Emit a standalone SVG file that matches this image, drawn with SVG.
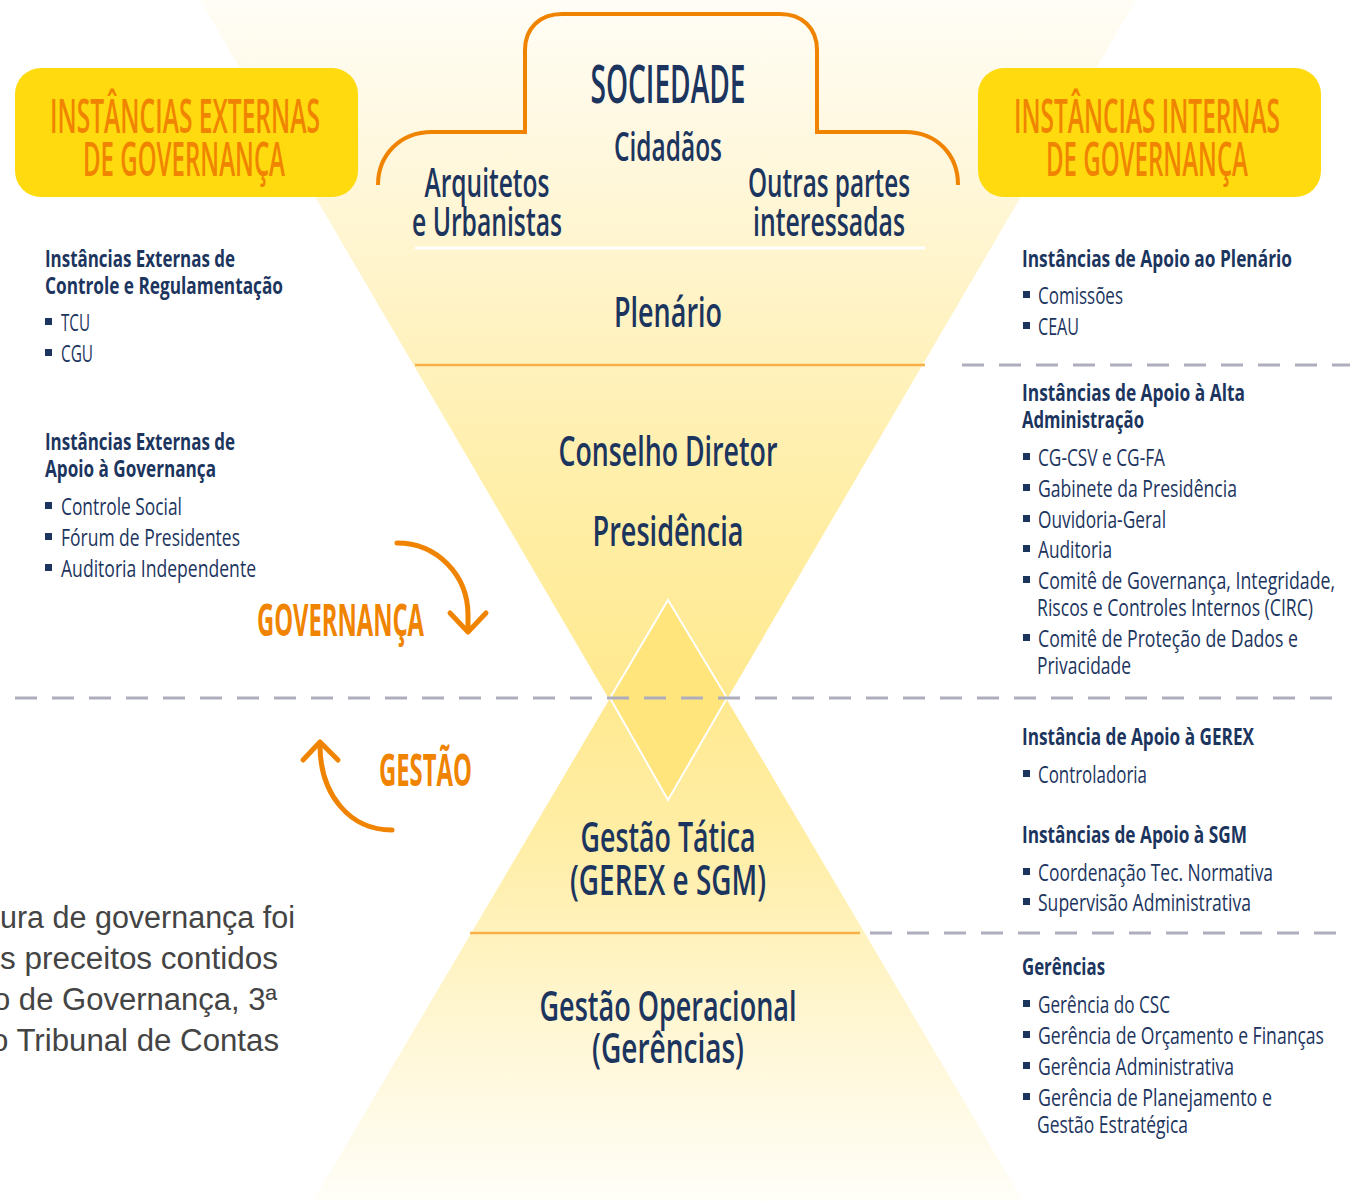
<svg xmlns="http://www.w3.org/2000/svg" width="1350" height="1201" viewBox="0 0 1350 1201">
<defs>
<linearGradient id="gTop" gradientUnits="userSpaceOnUse" x1="0" y1="0" x2="0" y2="800">
<stop offset="0" stop-color="#FFFDF6"/>
<stop offset="0.3" stop-color="#FFF5D0"/>
<stop offset="0.6" stop-color="#FFEFAA"/>
<stop offset="1" stop-color="#FFE682"/>
</linearGradient>
<linearGradient id="gBot" gradientUnits="userSpaceOnUse" x1="0" y1="600" x2="0" y2="1201">
<stop offset="0" stop-color="#FFE682"/>
<stop offset="0.4" stop-color="#FFEEA6"/>
<stop offset="0.7" stop-color="#FFF6D2"/>
<stop offset="1" stop-color="#FFFEF8"/>
</linearGradient>
<style>
.box{fill:#FFDA0E}
.boxt{font-family:"Open Sans","Noto Sans","Liberation Sans",sans-serif;font-size:47px;font-weight:600;fill:#F08400;text-anchor:middle}
.ctr{font-family:"Open Sans","Noto Sans","Liberation Sans",sans-serif;font-weight:600;fill:#1C355E;text-anchor:middle}
.h{font-family:"Open Sans","Noto Sans","Liberation Sans",sans-serif;font-size:24px;font-weight:bold;fill:#1C355E}
.b{font-family:"Open Sans","Noto Sans","Liberation Sans",sans-serif;font-size:24px;font-weight:500;fill:#1C355E}
.sq{fill:#1C355E}
.org{font-family:"Open Sans","Noto Sans","Liberation Sans",sans-serif;font-weight:bold;fill:#F08400}
.dash{stroke:#ADADBE;stroke-width:3;stroke-dasharray:22 15;fill:none}
.arr{stroke:#F08400;stroke-width:5;fill:none;stroke-linecap:round;stroke-linejoin:round}
.note{font-family:"Liberation Sans",Arial,sans-serif;font-size:31px;fill:#444444}
</style>
</defs>
<rect width="1350" height="1201" fill="#FFFFFF"/>

<g id="funnel">
<polygon points="200,0 1136,0 668,800" fill="url(#gTop)"/>
<polygon points="668,600 1023,1201 313,1201" fill="url(#gBot)"/>
<polygon points="668,600 727,698 668,800 610,698" fill="#FFE57C" stroke="#FFFFFF" stroke-width="2"/>
<line x1="415" y1="248" x2="925" y2="248" stroke="#FFFFFF" stroke-width="3"/>
<line x1="415" y1="365" x2="925" y2="365" stroke="#F7B148" stroke-width="2.5"/>
<line x1="470" y1="933" x2="860" y2="933" stroke="#F7B148" stroke-width="2.5"/>
</g>

<g id="dividers">
<line class="dash" x1="962" y1="365" x2="1350" y2="365"/>
<line class="dash" x1="15" y1="698" x2="1340" y2="698"/>
<line class="dash" x1="870" y1="933" x2="1350" y2="933"/>
</g>

<g id="ext-box">
<rect class="box" x="15" y="68" width="343" height="129" rx="26"/>
<text class="boxt" x="185" y="133" textLength="270" lengthAdjust="spacingAndGlyphs">INSTÂNCIAS EXTERNAS</text>
<text class="boxt" x="184" y="176" textLength="202" lengthAdjust="spacingAndGlyphs">DE GOVERNANÇA</text>
</g>

<g id="int-box">
<rect class="box" x="978" y="68" width="343" height="129" rx="26"/>
<text class="boxt" x="1147" y="133" textLength="266" lengthAdjust="spacingAndGlyphs">INSTÂNCIAS INTERNAS</text>
<text class="boxt" x="1147" y="176" textLength="202" lengthAdjust="spacingAndGlyphs">DE GOVERNANÇA</text>
</g>

<g id="sociedade">
<path d="M378,185 C378,155 400,132 432,132 L525,132 L525,50 C525,28 540,14 562,14 L780,14 C802,14 817,28 817,50 L817,132 L905,132 C937,132 958,155 958,185" fill="none" stroke="#F08400" stroke-width="4"/>
<text class="ctr" x="668" y="103" font-size="52" font-weight="800" textLength="155" lengthAdjust="spacingAndGlyphs">SOCIEDADE</text>
<text class="ctr" x="668" y="161" font-size="39" textLength="108" lengthAdjust="spacingAndGlyphs">Cidadãos</text>
<text class="ctr" x="487" y="197" font-size="39" textLength="125" lengthAdjust="spacingAndGlyphs">Arquitetos</text>
<text class="ctr" x="487" y="236" font-size="39" textLength="150" lengthAdjust="spacingAndGlyphs">e Urbanistas</text>
<text class="ctr" x="829" y="197" font-size="39" textLength="162" lengthAdjust="spacingAndGlyphs">Outras partes</text>
<text class="ctr" x="829" y="236" font-size="39" textLength="152" lengthAdjust="spacingAndGlyphs">interessadas</text>
</g>

<g id="plenario">
<text class="ctr" x="668" y="327" font-size="42" textLength="108" lengthAdjust="spacingAndGlyphs">Plenário</text>
</g>
<g id="conselho">
<text class="ctr" x="668" y="466" font-size="42" textLength="219" lengthAdjust="spacingAndGlyphs">Conselho Diretor</text>
</g>
<g id="presidencia">
<text class="ctr" x="668" y="546" font-size="42" textLength="151" lengthAdjust="spacingAndGlyphs">Presidência</text>
</g>
<g id="gestao-tatica">
<text class="ctr" x="668" y="852" font-size="41" textLength="175" lengthAdjust="spacingAndGlyphs">Gestão Tática</text>
<text class="ctr" x="668" y="895" font-size="41" textLength="196" lengthAdjust="spacingAndGlyphs">(GEREX e SGM)</text>
</g>
<g id="gestao-operacional">
<text class="ctr" x="668" y="1021" font-size="42" textLength="257" lengthAdjust="spacingAndGlyphs">Gestão Operacional</text>
<text class="ctr" x="668" y="1063" font-size="42" textLength="152" lengthAdjust="spacingAndGlyphs">(Gerências)</text>
</g>

<g id="governanca-label">
<text class="org" x="257" y="636" font-size="44" textLength="167" lengthAdjust="spacingAndGlyphs">GOVERNANÇA</text>
</g>
<g id="gestao-label">
<text class="org" x="379" y="786" font-size="44" textLength="93" lengthAdjust="spacingAndGlyphs">GESTÃO</text>
</g>

<g id="connectors">
<path class="arr" d="M397,543 C437,543 468,575 468,615 L468,630"/>
<polyline class="arr" points="450,613 468,632 486,613"/>
<path class="arr" d="M320,745 C320,795 350,830 392,830"/>
<polyline class="arr" points="303,760 320,742 338,760"/>
</g>

<g id="ext-controle">
<text class="h" x="45" y="267" textLength="190" lengthAdjust="spacingAndGlyphs">Instâncias Externas de</text>
<text class="h" x="45" y="294" textLength="238" lengthAdjust="spacingAndGlyphs">Controle e Regulamentação</text>
<rect class="sq" x="45" y="318" width="7" height="7"/><text class="b" x="61" y="331" textLength="29" lengthAdjust="spacingAndGlyphs">TCU</text>
<rect class="sq" x="45" y="349" width="7" height="7"/><text class="b" x="61" y="362" textLength="32" lengthAdjust="spacingAndGlyphs">CGU</text>
</g>

<g id="ext-apoio">
<text class="h" x="45" y="450" textLength="190" lengthAdjust="spacingAndGlyphs">Instâncias Externas de</text>
<text class="h" x="45" y="477" textLength="171" lengthAdjust="spacingAndGlyphs">Apoio à Governança</text>
<rect class="sq" x="45" y="502" width="7" height="7"/><text class="b" x="61" y="515" textLength="121" lengthAdjust="spacingAndGlyphs">Controle Social</text>
<rect class="sq" x="45" y="533" width="7" height="7"/><text class="b" x="61" y="546" textLength="179" lengthAdjust="spacingAndGlyphs">Fórum de Presidentes</text>
<rect class="sq" x="45" y="564" width="7" height="7"/><text class="b" x="61" y="577" textLength="195" lengthAdjust="spacingAndGlyphs">Auditoria Independente</text>
</g>

<g id="int-plenario">
<text class="h" x="1022" y="267" textLength="270" lengthAdjust="spacingAndGlyphs">Instâncias de Apoio ao Plenário</text>
<rect class="sq" x="1023" y="291" width="7" height="7"/><text class="b" x="1038" y="304" textLength="85" lengthAdjust="spacingAndGlyphs">Comissões</text>
<rect class="sq" x="1023" y="322" width="7" height="7"/><text class="b" x="1038" y="335" textLength="41" lengthAdjust="spacingAndGlyphs">CEAU</text>
</g>

<g id="int-alta">
<text class="h" x="1022" y="401" textLength="223" lengthAdjust="spacingAndGlyphs">Instâncias de Apoio à Alta</text>
<text class="h" x="1022" y="428" textLength="122" lengthAdjust="spacingAndGlyphs">Administração</text>
<rect class="sq" x="1023" y="453" width="7" height="7"/><text class="b" x="1038" y="466" textLength="127" lengthAdjust="spacingAndGlyphs">CG-CSV e CG-FA</text>
<rect class="sq" x="1023" y="484" width="7" height="7"/><text class="b" x="1038" y="497" textLength="199" lengthAdjust="spacingAndGlyphs">Gabinete da Presidência</text>
<rect class="sq" x="1023" y="515" width="7" height="7"/><text class="b" x="1038" y="528" textLength="128" lengthAdjust="spacingAndGlyphs">Ouvidoria-Geral</text>
<rect class="sq" x="1023" y="545" width="7" height="7"/><text class="b" x="1038" y="558" textLength="74" lengthAdjust="spacingAndGlyphs">Auditoria</text>
<rect class="sq" x="1023" y="576" width="7" height="7"/><text class="b" x="1038" y="589" textLength="297" lengthAdjust="spacingAndGlyphs">Comitê de Governança, Integridade,</text>
<text class="b" x="1037" y="616" textLength="276" lengthAdjust="spacingAndGlyphs">Riscos e Controles Internos (CIRC)</text>
<rect class="sq" x="1023" y="634" width="7" height="7"/><text class="b" x="1038" y="647" textLength="260" lengthAdjust="spacingAndGlyphs">Comitê de Proteção de Dados e</text>
<text class="b" x="1037" y="674" textLength="94" lengthAdjust="spacingAndGlyphs">Privacidade</text>
</g>

<g id="int-gerex">
<text class="h" x="1022" y="745" textLength="232" lengthAdjust="spacingAndGlyphs">Instância de Apoio à GEREX</text>
<rect class="sq" x="1023" y="770" width="7" height="7"/><text class="b" x="1038" y="783" textLength="109" lengthAdjust="spacingAndGlyphs">Controladoria</text>
</g>

<g id="int-sgm">
<text class="h" x="1022" y="843" textLength="225" lengthAdjust="spacingAndGlyphs">Instâncias de Apoio à SGM</text>
<rect class="sq" x="1023" y="868" width="7" height="7"/><text class="b" x="1038" y="881" textLength="235" lengthAdjust="spacingAndGlyphs">Coordenação Tec. Normativa</text>
<rect class="sq" x="1023" y="898" width="7" height="7"/><text class="b" x="1038" y="911" textLength="213" lengthAdjust="spacingAndGlyphs">Supervisão Administrativa</text>
</g>

<g id="int-gerencias">
<text class="h" x="1022" y="975" textLength="83" lengthAdjust="spacingAndGlyphs">Gerências</text>
<rect class="sq" x="1023" y="1000" width="7" height="7"/><text class="b" x="1038" y="1013" textLength="132" lengthAdjust="spacingAndGlyphs">Gerência do CSC</text>
<rect class="sq" x="1023" y="1031" width="7" height="7"/><text class="b" x="1038" y="1044" textLength="286" lengthAdjust="spacingAndGlyphs">Gerência de Orçamento e Finanças</text>
<rect class="sq" x="1023" y="1062" width="7" height="7"/><text class="b" x="1038" y="1075" textLength="196" lengthAdjust="spacingAndGlyphs">Gerência Administrativa</text>
<rect class="sq" x="1023" y="1093" width="7" height="7"/><text class="b" x="1038" y="1106" textLength="234" lengthAdjust="spacingAndGlyphs">Gerência de Planejamento e</text>
<text class="b" x="1037" y="1133" textLength="151" lengthAdjust="spacingAndGlyphs">Gestão Estratégica</text>
</g>

<g id="note">
<text class="note" x="0" y="928" textLength="295" lengthAdjust="spacingAndGlyphs">ura de governança foi</text>
<text class="note" x="0" y="969" textLength="278" lengthAdjust="spacingAndGlyphs">s preceitos contidos</text>
<text class="note" x="-7" y="1010" textLength="284" lengthAdjust="spacingAndGlyphs">o de Governança, 3ª</text>
<text class="note" x="-9" y="1051" textLength="288" lengthAdjust="spacingAndGlyphs">o Tribunal de Contas</text>
</g>
</svg>
